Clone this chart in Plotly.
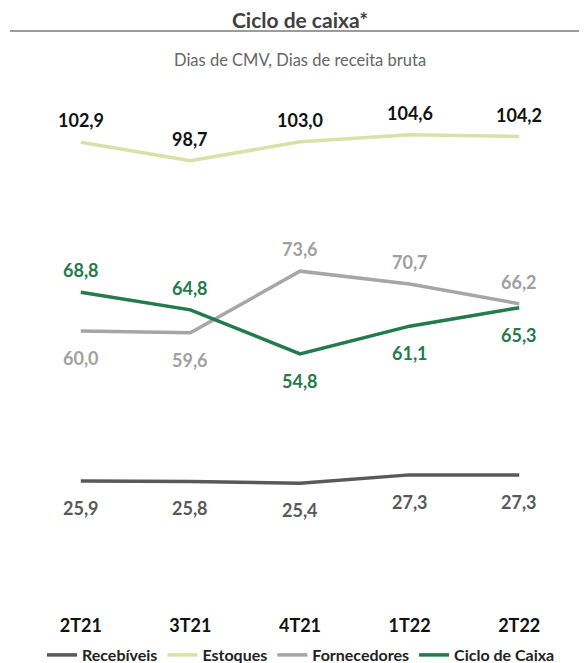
import plotly.graph_objects as go

categories = ["2T21", "3T21", "4T21", "1T22", "2T22"]
recebiveis = [25.9, 25.8, 25.4, 27.3, 27.3]
estoques = [102.9, 98.7, 103.0, 104.6, 104.2]
fornecedores = [60.0, 59.6, 73.6, 70.7, 66.2]
ciclo = [68.8, 64.8, 54.8, 61.1, 65.3]

# label placement: +1 above, -1 below
pos_receb = [-1, -1, -1, -1, -1]
pos_estoq = [1, 1, 1, 1, 1]
pos_forn = [-1, -1, 1, 1, 1]
pos_ciclo = [1, 1, -1, -1, -1]

FONT = "Lato"
series = [
    ("Recebíveis", recebiveis, "#595959", "#595959", pos_receb),
    ("Estoques", estoques, "#d9e2a6", "#111111", pos_estoq),
    ("Fornecedores", fornecedores, "#a6a6a6", "#a0a0a0", pos_forn),
    ("Ciclo de Caixa", ciclo, "#237a4b", "#237a4b", pos_ciclo),
]

W, H = 579, 655           # visible area (page has 8px body margin)
L, T, PW, PH = 18, 59, 548, 528


def py(page_y):
    return (595 - page_y) / PH


def px(page_x):
    return (page_x - 26) / PW


fig = go.Figure()
annotations = []
for name, vals, lc, tc, pos in series:
    fig.add_trace(go.Scatter(
        x=categories, y=vals, mode="lines", name=name,
        line=dict(color=lc, width=3.5), hoverinfo="skip"))
    for c, v, p in zip(categories, vals, pos):
        annotations.append(dict(
            x=c, y=v, xref="x", yref="y", showarrow=False,
            text=f"{v:.1f}".replace(".", ","),
            yshift=22 if p > 0 else -27,
            font=dict(family=FONT, size=18, color=tc, weight="bold")))

annotations.append(dict(
    x=px(300), xref="paper", y=py(48), yref="paper",
    text="Dias de CMV, Dias de receita bruta", showarrow=False,
    font=dict(family=FONT, size=16.5, color="#666666")))

fig.update_layout(
    width=W, height=H,
    margin=dict(l=L, r=W - L - PW, t=T, b=H - T - PH, autoexpand=False),
    paper_bgcolor="white", plot_bgcolor="white",
    title=dict(text="<b>Ciclo de caixa*</b>", x=292 / W, xref="container",
               y=1 - 13 / H, yref="container", yanchor="middle", xanchor="center",
               font=dict(family=FONT, size=21, color="#404040")),
    xaxis=dict(type="category", range=[-0.5, 4.5], showgrid=False, zeroline=False,
               showline=False, ticks="", ticklabelstandoff=18, tickangle=0,
               tickfont=dict(family=FONT, size=18, color="#111111", weight="bold")),
    yaxis=dict(range=[0, 120], visible=False),
    showlegend=True,
    legend=dict(orientation="h", x=px(301), xanchor="center",
                y=py(655), yanchor="middle",
                font=dict(family=FONT, size=16, color="#222222", weight="bold"),
                tracegroupgap=0),
    annotations=annotations,
    shapes=[dict(type="line", xref="paper", yref="paper",
                 x0=px(10), x1=px(595),
                 y0=py(31), y1=py(31),
                 line=dict(color="#7a7a7a", width=1.5))],
)

fig.write_html("out.html")
